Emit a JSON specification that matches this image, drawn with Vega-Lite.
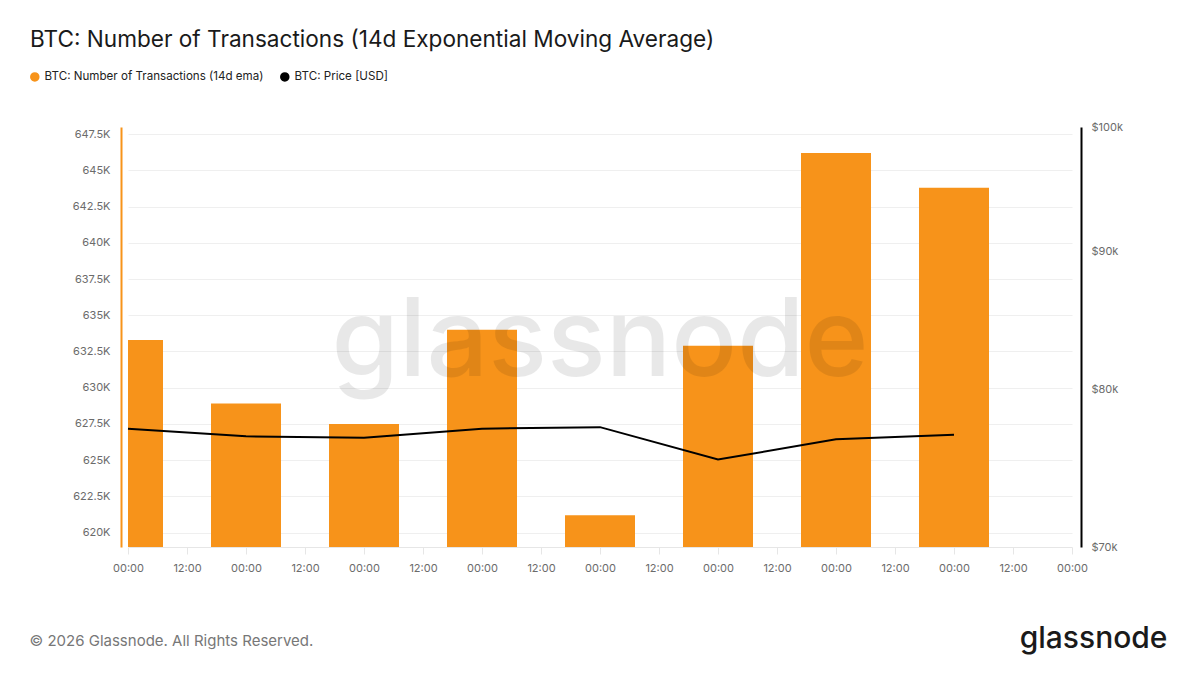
{
  "$schema": "https://vega.github.io/schema/vega-lite/v6.json",
  "width": 944,
  "height": 420,
  "autosize": {"type": "none"},
  "padding": {"left": 128, "top": 127, "right": 128, "bottom": 128},
  "background": "white",
  "config": {
    "font": "Inter",
    "view": {"stroke": null},
    "axis": {"labelFont": "Inter", "labelColor": "#6b6b6b", "labelFontSize": 11, "titleFont": "Inter"},
    "legend": {
      "direction": "horizontal",
      "labelFontSize": 11.6,
      "labelColor": "#222222",
      "labelFont": "Inter",
      "labelLimit": 400,
      "symbolType": "circle",
      "symbolSize": 64,
      "columnPadding": 13
    }
  },
  "title": {
    "text": "BTC: Number of Transactions (14d Exponential Moving Average)",
    "anchor": "start",
    "frame": "group",
    "dx": -98,
    "offset": 19,
    "fontSize": 22.6,
    "fontWeight": "normal",
    "font": "Inter",
    "color": "#1a1a1a"
  },
  "data": {
    "values": [
      {"date": "2026-01-01T00:00:00", "tx": 633300, "price": 77400},
      {"date": "2026-01-02T00:00:00", "tx": 628900, "price": 76900},
      {"date": "2026-01-03T00:00:00", "tx": 627500, "price": 76800},
      {"date": "2026-01-04T00:00:00", "tx": 634000, "price": 77400},
      {"date": "2026-01-05T00:00:00", "tx": 621200, "price": 77500},
      {"date": "2026-01-06T00:00:00", "tx": 632900, "price": 75400},
      {"date": "2026-01-07T00:00:00", "tx": 646200, "price": 76700},
      {"date": "2026-01-08T00:00:00", "tx": 643800, "price": 77000}
    ]
  },
  "layer": [
    {
      "mark": {"type": "bar", "width": 70, "clip": true, "color": "#f7931a"},
      "encoding": {
        "x": {
          "field": "date",
          "type": "temporal",
          "scale": {"domain": [{"year": 2026, "month": 1, "date": 1}, {"year": 2026, "month": 1, "date": 9}], "padding": 0},
          "axis": {
            "format": "%H:%M",
            "tickCount": 16,
            "grid": false,
            "domainColor": "#e6e6e6",
            "tickColor": "#e6e6e6",
            "tickSize": 7,
            "labelPadding": 8,
            "labelFlush": false,
            "labelOverlap": false,
            "title": "© 2026 Glassnode. All Rights Reserved.",
            "titleAnchor": "start",
            "titleAlign": "left",
            "titleBaseline": "alphabetic",
            "titleX": -99,
            "titleY": 98,
            "titleFontSize": 15,
            "titleFontWeight": "normal",
            "titleColor": "#777777"
          }
        },
        "y": {
          "field": "tx",
          "type": "quantitative",
          "scale": {"domain": [619000, 648000], "zero": false, "nice": false},
          "axis": {
            "orient": "left",
            "title": null,
            "values": [620000, 622500, 625000, 627500, 630000, 632500, 635000, 637500, 640000, 642500, 645000, 647500],
            "labelExpr": "(datum.value / 1000) + 'K'",
            "offset": 7,
            "domainColor": "#f7931a",
            "domainWidth": 2,
            "ticks": false,
            "labelPadding": 11,
            "grid": true,
            "gridColor": "#efefef"
          }
        },
        "y2": {"datum": 619000},
        "color": {
          "datum": "BTC: Number of Transactions (14d ema)",
          "type": "nominal",
          "scale": {
            "domain": ["BTC: Number of Transactions (14d ema)", "BTC: Price [USD]"],
            "range": ["#f7931a", "#000000"]
          },
          "legend": {"title": null, "orient": "none", "legendX": -99, "legendY": -56, "direction": "horizontal"}
        }
      }
    },
    {
      "data": {"values": [{"label": "glassnode"}]},
      "mark": {"type": "text", "fontSize": 109, "font": "Inter", "fontWeight": 500, "color": "#000000", "opacity": 0.085, "align": "center", "baseline": "middle", "dy": 6},
      "encoding": {"text": {"field": "label"}}
    },
    {
      "mark": {"type": "line", "color": "#000000", "strokeWidth": 2},
      "encoding": {
        "x": {"field": "date", "type": "temporal"},
        "y": {
          "field": "price",
          "type": "quantitative",
          "scale": {"type": "log", "domain": [70000, 100000], "nice": false, "zero": false},
          "axis": {
            "orient": "right",
            "title": "glassnode",
            "titleAngle": 0,
            "titleAlign": "right",
            "titleBaseline": "alphabetic",
            "titleX": 86,
            "titleY": 520,
            "titleFontSize": 30,
            "titleFontWeight": 500,
            "titleColor": "#1a1a1a",
            "values": [70000, 80000, 90000, 100000],
            "labelExpr": "'$' + (datum.value / 1000) + 'k'",
            "offset": 9,
            "domainColor": "#000000",
            "domainWidth": 2,
            "ticks": false,
            "labelPadding": 10,
            "grid": false
          }
        },
        "color": {"datum": "BTC: Price [USD]", "type": "nominal"}
      }
    }
  ],
  "resolve": {"scale": {"y": "independent"}}
}
